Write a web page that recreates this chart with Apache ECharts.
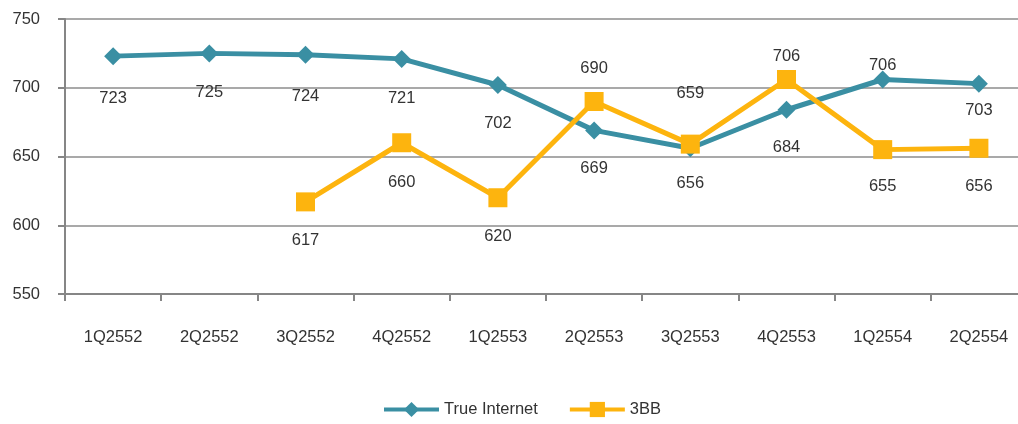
<!DOCTYPE html>
<html>
<head>
<meta charset="utf-8">
<script src="https://cdn.jsdelivr.net/npm/echarts@6/dist/echarts.min.js"></script>
<style>
html, body { margin: 0; padding: 0; background: #fff; }
#main { width: 1018px; height: 424px; }
</style>
</head>
<body>
<div id="main"></div>
<script>
var quarters = ['1Q2552', '2Q2552', '3Q2552', '4Q2552', '1Q2553', '2Q2553', '3Q2553', '4Q2553', '1Q2554', '2Q2554'];
var trueInternet = [723, 725, 724, 721, 702, 669, 656, 684, 706, 703];
var bb3 = [null, null, 617, 660, 620, 690, 659, 706, 655, 656];

// label placement: px from point to label centre, + below / - above
var trueLabelOff = [42, 39, 41, 39, 38, 38, 35, 37, -14, 27];
var bbLabelOff = [0, 0, 38, 39, 38, -33, -50, -23, 37, 38];

var chart = echarts.init(document.getElementById('main'));

var fs = 16.5;
function withLabels(vals, offs, symSize) {
    return vals.map(function (v, i) {
        if (v == null) return null;
        var off = offs[i];
        var d = Math.abs(off) - symSize / 2 - fs / 2;
        var lab = { position: off >= 0 ? 'bottom' : 'top', distance: Math.max(0, d) };
        if (d < 0) lab.offset = [0, off >= 0 ? d : -d];
        return { value: v, label: lab };
    });
}

var txt = '#333333';
var font = 'Liberation Sans, Arial, sans-serif';

option = {
    animation: false,
    textStyle: { fontFamily: font },
    grid: { left: 65, width: 962, top: 19, bottom: 130, outerBoundsMode: 'none', containLabel: false },
    legend: {
        top: 396,
        left: 377,
        itemWidth: 55,
        itemHeight: 19,
        itemGap: 30,
        lineStyle: { width: 4 },
        textStyle: { color: txt, fontSize: fs, fontFamily: font },
        data: ['True Internet', '3BB']
    },
    xAxis: {
        type: 'category',
        data: quarters,
        boundaryGap: true,
        axisLine: { lineStyle: { color: '#868686', width: 2 } },
        axisTick: { show: true, length: 7, lineStyle: { color: '#868686', width: 2 } },
        axisLabel: { color: txt, fontSize: fs, margin: 35, fontFamily: font, interval: 0 }
    },
    yAxis: {
        type: 'value',
        min: 550,
        max: 750,
        interval: 50,
        axisLine: { show: true, lineStyle: { color: '#868686', width: 2 } },
        axisTick: { show: true, length: 7, lineStyle: { color: '#868686', width: 2 } },
        axisLabel: { color: txt, fontSize: fs, margin: 25, fontFamily: font },
        splitLine: { lineStyle: { color: '#8c8c8c', width: 1.5 } }
    },
    series: [{
        name: 'True Internet',
        type: 'line',
        data: withLabels(trueInternet, trueLabelOff, 18),
        symbol: 'diamond',
        symbolSize: 18,
        itemStyle: { color: '#3a8fa3' },
        lineStyle: { color: '#3a8fa3', width: 5 },
        label: { show: true, color: txt, fontSize: fs, fontFamily: font }
    }, {
        name: '3BB',
        type: 'line',
        data: withLabels(bb3, bbLabelOff, 19),
        symbol: 'rect',
        symbolSize: 19,
        itemStyle: { color: '#fdb40e' },
        lineStyle: { color: '#fdb40e', width: 5 },
        label: { show: true, color: txt, fontSize: fs, fontFamily: font }
    }]
};
chart.setOption(option);
</script>
</body>
</html>
